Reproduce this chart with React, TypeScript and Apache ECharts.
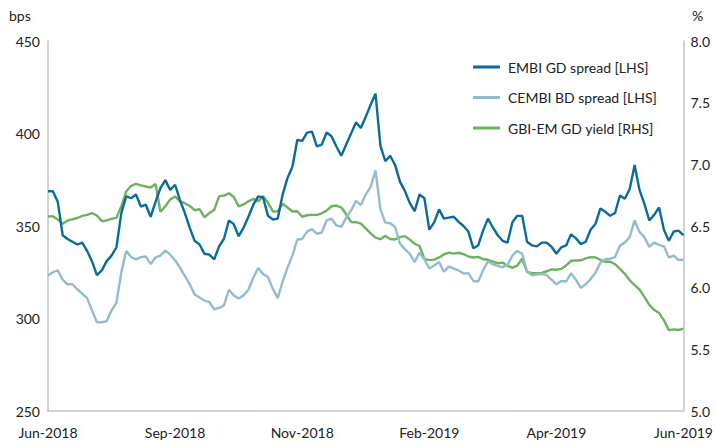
import React, { useEffect, useRef } from "react";
import * as echarts from "echarts";

const tickLabels = ["Jun-2018", "Sep-2018", "Nov-2018", "Feb-2019", "Apr-2019", "Jun-2019"];

const embi = [
  368.8, 368.8, 363, 345, 343, 341.5, 340, 341, 336.5, 331,
  323.5, 326, 331, 334, 338.5, 357, 366, 365, 367, 360.5,
  361.5, 355, 363, 370.5, 374.8, 369.5, 372.3, 364, 357, 349,
  342, 340, 335, 334.5, 332, 339, 343.1, 353, 351, 344.5,
  349, 355, 361.5, 366, 365.5, 355.5, 353.5, 354, 367, 376,
  382, 396.5, 396, 400.5, 401, 393, 394, 400.5, 398.5, 393,
  388, 394, 400, 406, 403, 409, 415.5, 421.5, 393.4, 385,
  388, 383, 374, 369, 362.5, 358, 367, 365, 348, 352,
  359, 354, 354.5, 355, 352.2, 350, 347, 338, 339.5, 347.5,
  354, 349.2, 345, 342, 341, 352, 355.5, 355.5, 341.5, 339.5,
  339, 341, 341, 338.8, 335, 338.5, 339.5, 345.5, 343.3, 340.2,
  341.5, 348, 351.2, 359.5, 357.7, 355.5, 357, 366.5, 364.7, 370,
  383, 369.5, 362, 353, 356, 360, 348, 342, 347, 347.5,
  345,
];

const cembi = [
  323.3, 325, 326, 321, 318.5, 318.5, 315.8, 313.5, 311, 304.4,
  298, 298, 298.5, 304.4, 308.5, 325, 336.5, 333.2, 332, 333.2,
  333.5, 329.5, 333, 334, 336.8, 334.5, 331.5, 327.5, 323, 318.5,
  313, 311.3, 309.7, 308.9, 305, 305.7, 307.1, 315.5, 312.5, 310.8,
  312.5, 315.5, 322, 327.3, 324, 322.4, 316, 311, 320, 327.5,
  334, 342.7, 343, 347, 348.3, 345.8, 346.5, 353, 354, 350.3,
  349.5, 354.5, 358.4, 363.6, 361.3, 367, 371.2, 380, 359, 351.8,
  351.5, 349.5, 340.5, 337.5, 335, 330.5, 335.5, 332, 327, 328.7,
  330.5, 325.3, 328.2, 327, 326, 324.3, 324.5, 320.3, 320, 326,
  331, 329.3, 328.4, 327.8, 329, 334, 336.5, 335, 325.5, 323.3,
  323.8, 324.1, 323.5, 321, 318.5, 320.3, 320, 324.5, 321, 316.6,
  318.5, 321.3, 324.8, 330.2, 332, 332.3, 333.2, 339.4, 341, 344,
  353, 346.8, 344, 338.7, 341, 339.8, 339, 333, 334, 331.6,
  331.8,
];

const gbi = [
  6.577, 6.58, 6.553, 6.518, 6.545, 6.555, 6.565, 6.582, 6.59, 6.605,
  6.585, 6.54, 6.545, 6.558, 6.566, 6.66, 6.78, 6.826, 6.841, 6.83,
  6.82, 6.812, 6.84, 6.615, 6.66, 6.715, 6.74, 6.7, 6.685, 6.662,
  6.628, 6.636, 6.57, 6.605, 6.63, 6.74, 6.747, 6.765, 6.735, 6.66,
  6.675, 6.7, 6.72, 6.7, 6.742, 6.69, 6.618, 6.62, 6.68, 6.65,
  6.618, 6.62, 6.575, 6.587, 6.59, 6.59, 6.603, 6.625, 6.66, 6.666,
  6.65, 6.595, 6.533, 6.531, 6.52, 6.48, 6.44, 6.405, 6.393, 6.42,
  6.395, 6.391, 6.41, 6.418, 6.39, 6.356, 6.338, 6.233, 6.223, 6.227,
  6.245, 6.27, 6.284, 6.276, 6.283, 6.272, 6.253, 6.245, 6.25, 6.23,
  6.226, 6.212, 6.198, 6.203, 6.178, 6.16, 6.18, 6.235, 6.126, 6.12,
  6.118, 6.12, 6.133, 6.148, 6.145, 6.152, 6.18, 6.218, 6.22, 6.222,
  6.237, 6.247, 6.245, 6.225, 6.21, 6.21, 6.19, 6.152, 6.112, 6.06,
  6.02, 5.985, 5.925, 5.86, 5.82, 5.795, 5.735, 5.656, 5.662, 5.657,
  5.668,
];

const seriesNames = ["EMBI GD spread [LHS]", "CEMBI BD spread [LHS]", "GBI-EM GD yield [RHS]"];
const colors = ["#0a6b9d", "#94bdcb", "#6cb35e"];

const FONT = "Lato, 'Open Sans', sans-serif";

export default function App() {
  const ref = useRef<HTMLDivElement>(null);
  useEffect(() => {
    if (!ref.current) return;
    const chart = echarts.init(ref.current, undefined, { renderer: "svg" });
    const last = embi.length - 1;
    const step = last / (tickLabels.length - 1);
    const toPairs = (arr: number[]) => arr.map((v, i) => [i, v]);
    const axisLineStyle = { show: true, lineStyle: { color: "#c4c4c4", width: 1.5 } };
    const labelStyle = { color: "#222", fontSize: 14, fontFamily: FONT };
    chart.setOption({
      animation: false,
      textStyle: { fontFamily: FONT },
      grid: { left: 48, right: 30, top: 41, bottom: 36, containLabel: false },
      legend: {
        orient: "vertical",
        left: 468,
        top: 55,
        icon: "rect",
        itemWidth: 27,
        itemHeight: 3,
        itemGap: 16.5,
        textStyle: { color: "#222", fontSize: 14, fontFamily: FONT, padding: [0, 0, 0, 3] },
        data: seriesNames,
      },
      graphic: [
        { type: "text", left: 9, top: 8, style: { text: "bps", fill: "#222", fontSize: 14, fontFamily: FONT } },
        { type: "text", left: 692, top: 8, style: { text: "%", fill: "#222", fontSize: 14, fontFamily: FONT } },
      ],
      xAxis: {
        type: "value",
        min: 0,
        max: last,
        interval: step,
        axisLine: axisLineStyle,
        axisTick: { show: false },
        splitLine: { show: false },
        axisLabel: {
          ...labelStyle,
          margin: 14,
          showMinLabel: true,
          showMaxLabel: true,
          formatter: (v: number) => tickLabels[Math.round(v / step)] ?? "",
        },
      },
      yAxis: [
        {
          type: "value",
          min: 250,
          max: 450,
          interval: 50,
          axisLine: axisLineStyle,
          axisTick: { show: false },
          splitLine: { show: false },
          axisLabel: { ...labelStyle, margin: 8 },
        },
        {
          type: "value",
          min: 5,
          max: 8,
          interval: 0.5,
          position: "right",
          axisLine: axisLineStyle,
          axisTick: { show: false },
          splitLine: { show: false },
          axisLabel: { ...labelStyle, margin: 7, formatter: (v: number) => v.toFixed(1) },
        },
      ],
      series: [
        {
          name: seriesNames[0],
          type: "line",
          yAxisIndex: 0,
          data: toPairs(embi),
          showSymbol: false,
          symbol: "none",
          z: 3,
          lineStyle: { color: colors[0], width: 2.4 },
          itemStyle: { color: colors[0] },
        },
        {
          name: seriesNames[1],
          type: "line",
          yAxisIndex: 0,
          data: toPairs(cembi),
          showSymbol: false,
          symbol: "none",
          z: 2,
          lineStyle: { color: colors[1], width: 2.4 },
          itemStyle: { color: colors[1] },
        },
        {
          name: seriesNames[2],
          type: "line",
          yAxisIndex: 1,
          data: toPairs(gbi),
          showSymbol: false,
          symbol: "none",
          z: 1,
          lineStyle: { color: colors[2], width: 2.4 },
          itemStyle: { color: colors[2] },
        },
      ],
    });
    return () => chart.dispose();
  }, []);
  return <div ref={ref} style={{ width: 716, height: 447, position: "absolute", left: 0, top: 0 }} />;
}
